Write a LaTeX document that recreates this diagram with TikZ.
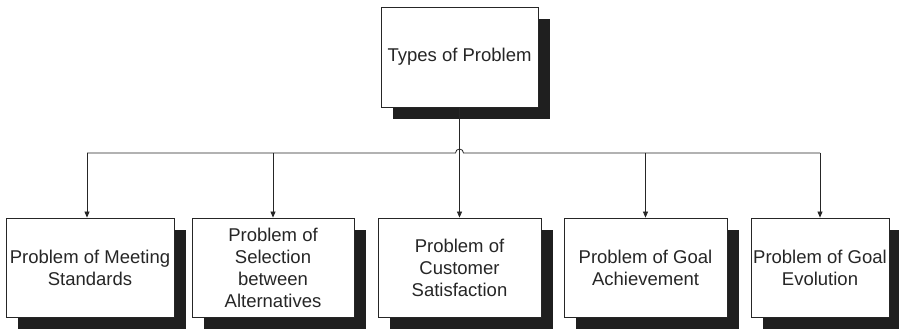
\documentclass[tikz,border=0pt]{standalone}
\usepackage{fontspec}
\setmainfont{Liberation Sans}
\usetikzlibrary{shadows,arrows.meta,calc}
\begin{document}
\begin{tikzpicture}[x=1pt,y=1pt,
  box/.style={draw=black!85, line width=0.8pt, fill=white, inner sep=0pt,
    minimum height=99pt, align=center, text=black!85,
    font=\fontsize{18.5pt}{22pt}\selectfont,
    drop shadow={shadow xshift=12pt, shadow yshift=-12pt, fill=black!88, opacity=1}},
  link/.style={line width=0.8pt, draw=black!85},
  arr/.style={link, -{Triangle[length=6pt,width=5pt]}}]
  \useasboundingbox (0,0) rectangle (899,329);
  % root
  \node[box, minimum width=157pt, minimum height=100pt] (top) at (459.5,272) {Types of Problem};
  % children
  \node[box, minimum width=168pt] (b1) at (90,61.5) {Problem of Meeting\\Standards};
  \node[box, minimum width=162pt] (b2) at (273,61.5) {Problem of\\Selection\\between\\Alternatives};
  \node[box, minimum width=163pt] (b3) at (459.5,61.5) {Problem of\\Customer\\Satisfaction};
  \node[box, minimum width=163pt] (b4) at (645.5,61.5) {Problem of Goal\\Achievement};
  \node[box, minimum width=138pt] (b5) at (820,61.5) {Problem of Goal\\Evolution};
  % bus ends
  \coordinate (j1) at (87,176);
  \coordinate (j5) at (b5.north |- j1);
  % trunk
  \draw[arr] (top.south) -- (b3.north);
  % bus with a hop over the trunk
  \draw[link] (j1) -- ($(top.south |- j1)+(-4,0)$) arc (180:0:4) -- (j5);
  % drops
  \draw[arr] (j1) -- (j1 |- b1.north);
  \draw[arr] (b2.north |- j1) -- (b2.north);
  \draw[arr] (b4.north |- j1) -- (b4.north);
  \draw[arr] (j5) -- (b5.north);
\end{tikzpicture}
\end{document}
